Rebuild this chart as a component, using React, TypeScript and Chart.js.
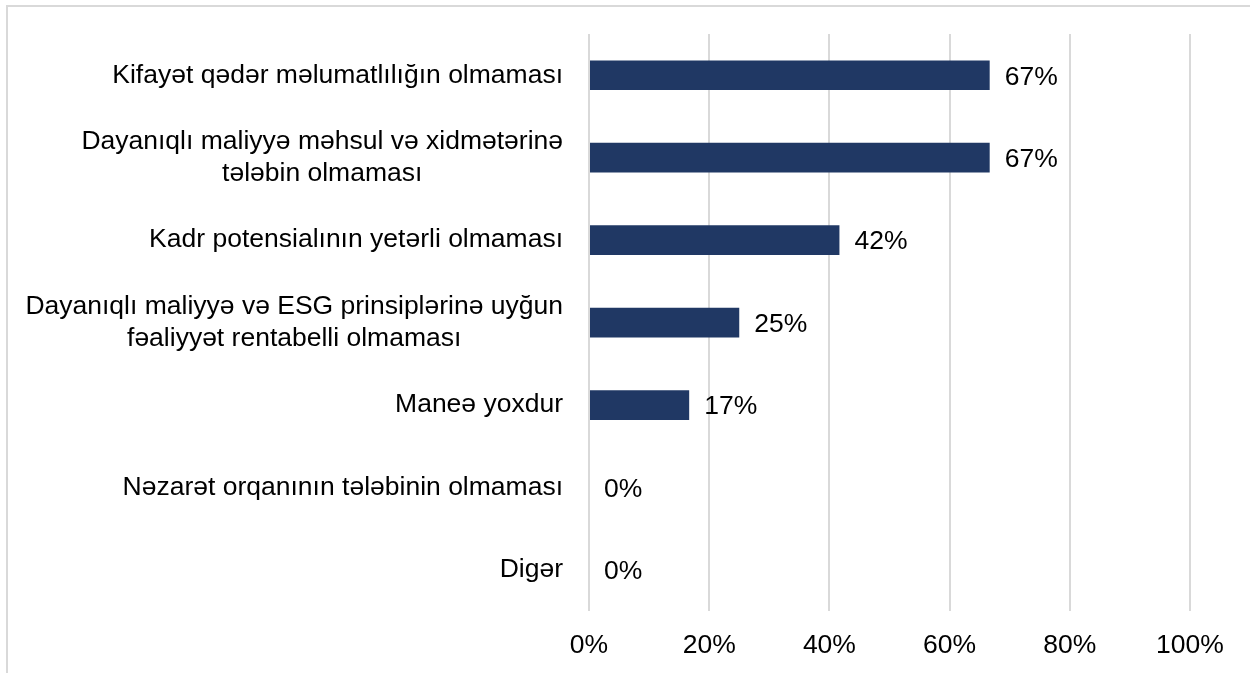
import React, { useEffect, useRef } from "react";
import { Chart, registerables } from "chart.js";

Chart.register(...registerables);

const categories: (string | string[])[] = [
  "Kifayət qədər məlumatlılığın olmaması",
  ["Dayanıqlı maliyyə məhsul və xidmətərinə", "tələbin olmaması"],
  "Kadr potensialının yetərli olmaması",
  ["Dayanıqlı maliyyə və ESG prinsiplərinə uyğun", "fəaliyyət rentabelli olmaması"],
  "Maneə yoxdur",
  "Nəzarət orqanının tələbinin olmaması",
  "Digər",
];

const values: number[] = [66.67, 66.67, 41.67, 25, 16.67, 0, 0];

const xMin = 0;
const xMax = 100;
const xStep = 20;

const FONT = '"Liberation Sans", Arial, sans-serif';
const FONT_SIZE = 26.5;
const LINE_H = 32;
const BAR_COLOR = "#203864";
const GRID_COLOR = "#d9d9d9";

const categoryLabelPlugin = {
  id: "categoryLabels",
  afterDraw(chart: any) {
    const ctx = chart.ctx;
    const yScale = chart.scales.y;
    const right = chart.chartArea.left - 26;
    ctx.save();
    ctx.font = `${FONT_SIZE}px ${FONT}`;
    ctx.fillStyle = "#000000";
    ctx.textAlign = "center";
    ctx.textBaseline = "middle";
    categories.forEach((c, i) => {
      const lines = Array.isArray(c) ? c : [c];
      const maxW = Math.max(...lines.map((l) => ctx.measureText(l).width));
      const cx = right - maxW / 2;
      const cy = yScale.getPixelForValue(i);
      lines.forEach((l, j) => {
        ctx.fillText(l, cx, cy + (j - (lines.length - 1) / 2) * LINE_H);
      });
    });
    ctx.restore();
  },
};

const valueLabelPlugin = {
  id: "valueLabels",
  afterDatasetsDraw(chart: any) {
    const ctx = chart.ctx;
    const meta = chart.getDatasetMeta(0);
    ctx.save();
    ctx.font = `${FONT_SIZE}px ${FONT}`;
    ctx.fillStyle = "#000000";
    ctx.textAlign = "left";
    ctx.textBaseline = "middle";
    meta.data.forEach((bar: any, i: number) => {
      const v = values[i];
      ctx.fillText(`${Math.round(v)}%`, bar.x + 15, bar.y + 2);
    });
    ctx.restore();
  },
};

export default function App() {
  const canvasRef = useRef<HTMLCanvasElement | null>(null);

  useEffect(() => {
    if (!canvasRef.current) return;
    const chart = new Chart(canvasRef.current, {
      type: "bar",
      data: {
        labels: categories.map((c) => (Array.isArray(c) ? c.join(" ") : c)),
        datasets: [
          {
            data: values,
            backgroundColor: BAR_COLOR,
            borderWidth: 0,
            barPercentage: 0.36,
            categoryPercentage: 1,
          },
        ],
      },
      options: {
        indexAxis: "y",
        responsive: false,
        animation: false,
        devicePixelRatio: 1,
        layout: {
          padding: { left: 589, right: 60, top: 34, bottom: -8 },
        },
        plugins: {
          legend: { display: false },
          tooltip: { enabled: false },
        },
        scales: {
          x: {
            min: xMin,
            max: xMax,
            ticks: {
              stepSize: xStep,
              padding: 19,
              color: "#000000",
              font: { family: FONT, size: FONT_SIZE },
              callback: (v: any) => `${v}%`,
            },
            grid: {
              color: GRID_COLOR,
              lineWidth: 2,
              drawTicks: false,
            },
            border: { display: false },
          },
          y: {
            display: false,
          },
        },
      },
      plugins: [categoryLabelPlugin, valueLabelPlugin],
    });
    return () => chart.destroy();
  }, []);

  return (
    <div
      style={{
        position: "absolute",
        left: 0,
        top: 0,
        width: 1250,
        height: 673,
        overflow: "hidden",
        background: "#ffffff",
      }}
    >
      <div
        style={{
          position: "absolute",
          left: 6,
          top: 5,
          width: 1300,
          height: 700,
          border: "2px solid #d9d9d9",
          boxSizing: "border-box",
        }}
      />
      <canvas
        ref={canvasRef}
        width={1250}
        height={673}
        style={{ position: "absolute", left: 0, top: 0, width: 1250, height: 673 }}
      />
    </div>
  );
}
